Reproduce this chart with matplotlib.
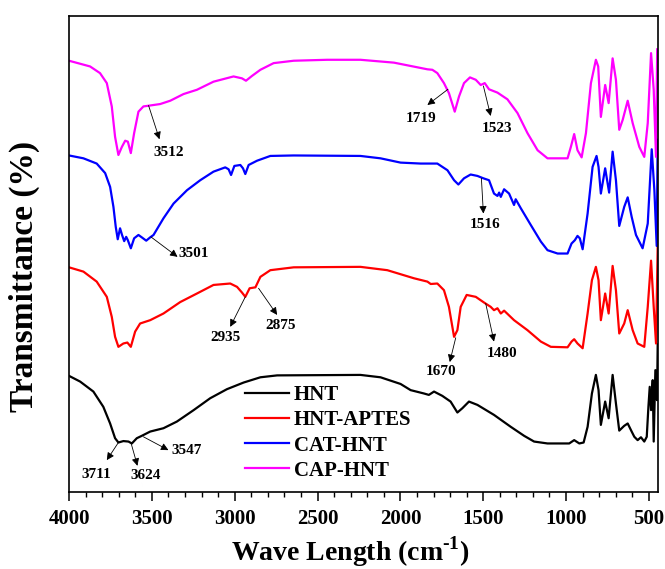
import matplotlib.pyplot as plt
import numpy as np

# wavenumber (cm-1) / transmittance (arb. units, stacked)
hnt_wn = [4000, 3933, 3853, 3793, 3752, 3722, 3702, 3672, 3641, 3621, 3591, 3561,
          3510, 3430, 3349, 3248, 3148, 3047, 2946, 2845, 2744, 2241, 2120, 1999,
          1938, 1858, 1828, 1797, 1747, 1697, 1656, 1626, 1586, 1535, 1435, 1334,
          1253, 1193, 1112, 981, 951, 920, 894, 870, 844, 820, 804, 790, 764, 743,
          719, 699, 679, 649, 628, 604, 588, 568, 548, 528, 513, 503, 495, 487,
          477, 471, 461, 451, 447]
hnt_t = [24.4, 23.2, 21.1, 17.9, 14.4, 11.3, 10.4, 10.7, 10.6, 10.2, 11.3, 11.8,
         12.7, 13.4, 14.8, 17.2, 19.7, 21.6, 23.0, 24.1, 24.5, 24.6, 24.1, 22.7,
         21.4, 20.7, 20.4, 21.1, 20.2, 19.0, 16.7, 17.6, 19.0, 18.3, 16.2, 13.7,
         11.8, 10.6, 10.2, 10.2, 10.9, 10.2, 10.4, 13.7, 20.7, 24.6, 21.4, 14.1,
         19.0, 15.5, 24.6, 18.6, 12.9, 13.9, 14.4, 12.7, 11.6, 10.9, 11.5, 10.6,
         11.6, 17.9, 22.1, 17.2, 23.5, 10.6, 25.6, 19.3, 31.0]

aptes_wn = [4000, 3913, 3833, 3772, 3742, 3722, 3702, 3672, 3648, 3627, 3601, 3571,
            3510, 3430, 3329, 3228, 3128, 3027, 2986, 2956, 2936, 2910, 2875, 2845,
            2785, 2644, 2241, 2079, 1918, 1837, 1817, 1777, 1737, 1707, 1676, 1656,
            1636, 1600, 1545, 1495, 1455, 1435, 1414, 1394, 1374, 1314, 1233, 1152,
            1092, 991, 967, 951, 931, 900, 870, 844, 820, 804, 790, 764, 743, 719,
            699, 679, 649, 628, 598, 568, 528, 507, 487, 471, 457, 447]
aptes_t = [47.2, 46.3, 44.2, 41.0, 36.8, 32.6, 30.5, 31.2, 31.4, 30.5, 33.7, 35.4,
           36.1, 37.5, 39.9, 41.7, 43.5, 43.8, 43.1, 41.9, 41.0, 42.8, 43.0, 45.2,
           46.6, 47.2, 47.3, 46.6, 44.9, 44.2, 43.7, 43.8, 42.4, 38.9, 32.6, 34.0,
           38.9, 41.4, 41.0, 39.8, 38.9, 38.2, 38.6, 37.5, 38.1, 36.1, 34.0, 31.6,
           30.5, 30.4, 31.6, 32.1, 31.2, 30.2, 37.5, 44.5, 47.3, 44.5, 36.1, 41.7,
           37.5, 47.5, 42.4, 33.3, 35.4, 38.2, 34.0, 31.2, 30.5, 38.9, 48.6, 38.9,
           31.2, 51.5]

cat_wn = [4000, 3913, 3833, 3782, 3752, 3732, 3718, 3706, 3692, 3680, 3667, 3655,
          3645, 3627, 3607, 3581, 3561, 3534, 3510, 3490, 3430, 3369, 3288, 3208,
          3128, 3057, 3037, 3022, 3002, 2966, 2950, 2936, 2916, 2865, 2785, 2644,
          2241, 2120, 1999, 1878, 1777, 1716, 1676, 1650, 1616, 1576, 1535, 1499,
          1465, 1435, 1414, 1404, 1394, 1374, 1344, 1314, 1304, 1273, 1213, 1152,
          1112, 1051, 991, 967, 947, 931, 917, 900, 870, 840, 816, 804, 790, 764,
          740, 719, 699, 679, 649, 628, 604, 578, 538, 507, 483, 467, 453, 447]
cat_t = [70.7, 70.1, 69.0, 67.0, 64.1, 59.9, 55.7, 53.1, 55.4, 54.0, 52.7, 53.6,
         52.9, 51.2, 53.3, 54.0, 53.5, 52.8, 53.5, 54.0, 57.5, 60.6, 63.4, 65.5,
         67.3, 68.2, 67.8, 66.6, 68.5, 68.7, 68.0, 66.8, 68.7, 69.6, 70.6, 70.7,
         70.6, 70.1, 69.2, 69.0, 69.0, 67.6, 65.5, 64.6, 65.9, 66.7, 66.4, 65.9,
         65.5, 62.7, 62.2, 62.9, 62.0, 63.6, 62.7, 60.3, 61.5, 59.6, 56.1, 52.6,
         50.8, 50.1, 50.1, 52.2, 52.9, 53.8, 53.3, 51.0, 58.5, 68.3, 70.6, 68.3,
         62.7, 68.0, 62.9, 71.5, 65.5, 55.9, 59.9, 61.9, 57.8, 54.0, 51.2, 56.4,
         72.0, 63.4, 51.7, 74.0]

cap_wn = [4000, 3873, 3813, 3772, 3742, 3722, 3702, 3681, 3661, 3645, 3627, 3607,
          3581, 3551, 3510, 3450, 3389, 3309, 3228, 3128, 3007, 2956, 2932, 2896,
          2845, 2765, 2644, 2442, 2241, 2039, 1837, 1807, 1777, 1737, 1707, 1672,
          1646, 1616, 1580, 1545, 1515, 1491, 1465, 1414, 1354, 1293, 1233, 1172,
          1112, 991, 971, 951, 931, 906, 880, 850, 820, 806, 790, 764, 743, 719,
          699, 679, 658, 628, 598, 558, 528, 507, 487, 471, 457, 450]
cap_t = [90.6, 89.4, 88.0, 85.9, 81.0, 74.6, 70.8, 72.5, 73.8, 73.6, 71.2, 75.4,
         79.9, 81.0, 81.2, 81.5, 82.2, 83.6, 84.5, 86.2, 87.3, 86.9, 86.4, 87.4,
         88.7, 90.1, 90.6, 90.8, 90.8, 90.2, 88.8, 88.7, 88.0, 85.9, 83.8, 79.9,
         83.1, 85.9, 87.1, 86.6, 85.5, 85.9, 84.6, 83.9, 82.5, 79.6, 75.4, 71.8,
         70.1, 70.1, 72.5, 75.2, 71.8, 70.3, 75.4, 85.9, 90.8, 89.4, 78.8, 85.5,
         81.7, 91.1, 86.6, 76.1, 78.2, 82.2, 77.5, 72.5, 70.4, 77.5, 92.2, 84.5,
         70.4, 93.0]

series = [("HNT", hnt_wn, hnt_t, "black"),
          ("HNT-APTES", aptes_wn, aptes_t, "red"),
          ("CAT-HNT", cat_wn, cat_t, "blue"),
          ("CAP-HNT", cap_wn, cap_t, "magenta")]

# peak labels: text, point on curve, arrow head, label centre
peaks = [("3512", (3520, 81.2), (3454, 74.1), (3400, 71.3)),
         ("1719", (1713, 84.6), (1837, 81.3), (1878, 78.5)),
         ("1523", (1499, 85.3), (1455, 79.0), (1418, 76.4)),
         ("3501", (3506, 53.6), (3345, 49.4), (3248, 50.1)),
         ("1516", (1511, 65.9), (1499, 58.5), (1491, 56.1)),
         ("2935", (2936, 41.0), (3027, 34.7), (3053, 32.4)),
         ("2875", (2856, 42.8), (2744, 37.2), (2724, 34.9)),
         ("1670", (1666, 32.4), (1702, 27.3), (1757, 25.3)),
         ("1480", (1485, 39.6), (1435, 31.6), (1384, 29.1)),
         ("3711", (3702, 10.4), (3772, 6.7), (3833, 3.6)),
         ("3624", (3625, 10.2), (3587, 5.5), (3540, 3.4)),
         ("3547", (3551, 11.6), (3400, 8.8), (3288, 8.8))]

plt.rcParams['font.family'] = 'Liberation Serif'
plt.rcParams['font.weight'] = 'bold'
plt.rcParams['mathtext.fontset'] = 'custom'
plt.rcParams['mathtext.rm'] = 'Liberation Serif:bold'
plt.rcParams['mathtext.bf'] = 'Liberation Serif:bold'

fig = plt.figure(figsize=(6.65, 5.69), dpi=100)
ax = fig.add_axes([0.1038, 0.1353, 0.8857, 0.8366])

for name, wn, t, c in series:
    ax.plot(wn, t, color=c, lw=1.6, label=name)

for txt, pt, head, lab in peaks:
    ax.annotate('', xy=head, xytext=pt,
                arrowprops=dict(arrowstyle='-|>', color='black', lw=0.6,
                                mutation_scale=11, shrinkA=0, shrinkB=0))
    ax.text(lab[0], lab[1], txt, fontsize=11, fontweight='bold',
            ha='center', va='center')

ax.set_xlim(4000, 445)
ax.set_ylim(0, 100)
ax.set_xticks(np.arange(4000, 499, -500))
ax.set_xticks(np.arange(4000, 499, -100), minor=True)
ax.set_yticks([])
ax.tick_params(axis='x', which='major', length=6.5, width=1.1, labelsize=15,
               direction='out', pad=6)
ax.tick_params(axis='x', which='minor', length=3.5, width=1.0, direction='out')
for lab in ax.get_xticklabels():
    lab.set_fontweight('bold')
for s in ax.spines.values():
    s.set_linewidth(1.2)

fig.text(350 / 665, 1 - 552 / 569, 'Wave Length (cm$^{\\mathrm{\\text{-1}}}$)',
         fontsize=20, fontweight='bold', ha='center', va='center')
ax.set_ylabel('Transmittance (%)', fontsize=24, fontweight='bold')
ax.yaxis.set_label_coords(-0.075, 0.452)
ax.yaxis.label.set_va('center')

ax.legend(loc='upper left', bbox_to_anchor=(0.299, 0.2245), frameon=False,
          handlelength=2.1, handletextpad=0.25, labelspacing=0.25,
          borderpad=0, borderaxespad=0, prop={'weight': 'bold', 'size': 15})

fig.savefig('out.png', dpi=100)
